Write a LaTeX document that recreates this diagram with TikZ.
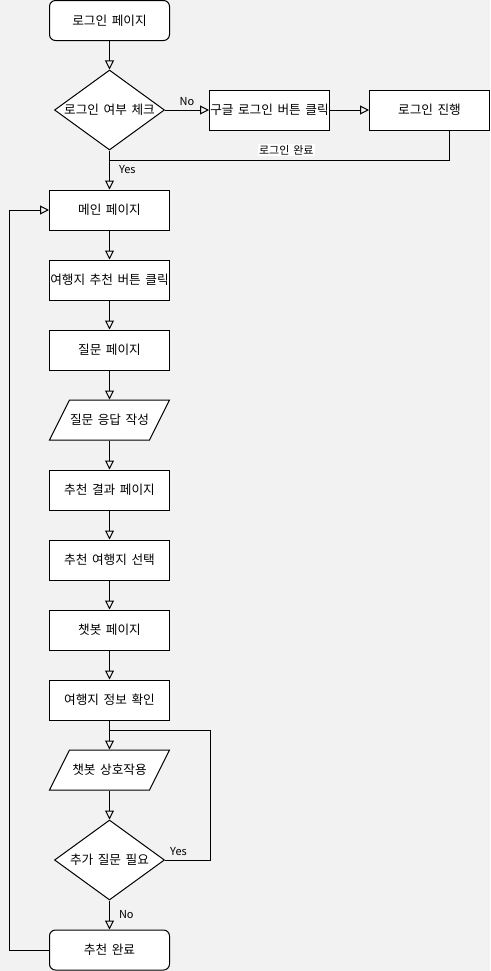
\documentclass[tikz,border=0pt]{standalone}
\usepackage{fontspec}
\setmainfont{Noto Sans CJK KR}[WordSpace=1.6]
\usetikzlibrary{shapes.geometric,arrows.meta}

\definecolor{canvas}{RGB}{242,242,242}

\tikzset{every picture/.style={line width=0.75pt}}
\tikzset{
  box/.style={draw, fill=white, minimum width=90pt, minimum height=30pt, inner sep=0pt, font=\fontsize{9.5}{11}\selectfont},
  roundbox/.style={box, rounded corners=4.5pt},
  iobox/.style={box, draw=none, fill=none},
  decision/.style={draw, fill=white, diamond, aspect=1.375, minimum width=82.5pt, minimum height=60pt, inner sep=-1pt, font=\fontsize{9.5}{11}\selectfont},
  flow/.style={-{Triangle[open,length=6.75pt,width=6.75pt]}},
  edgelabel/.style={font=\fontsize{8.25}{10}\selectfont, inner sep=0.75pt}
}

\begin{document}
\begin{tikzpicture}[x=0.75pt,y=0.75pt,yscale=-1,xscale=1]
%set diagram left start at 0, and has height of 971
\fill [canvas] (0,0) rectangle (490,971);
\useasboundingbox (0,0) rectangle (490,971);

%Shape: Rounded Rect
\node [roundbox] (login) at (109.5,20.5) {로그인 페이지};
%Shape: Diamond
\node [decision] (check) at (109.5,110) {로그인 여부 체크};
%Shape: Rectangle
\node [box] (google) at (269.5,110) {구글 로그인 버튼 클릭};
%Shape: Rectangle
\node [box] (proceed) at (429.5,110) {로그인 진행};
\coordinate (join) at (109.5,160);

%Shape: Rectangle
\node [box] (main) at (109.5,210) {메인 페이지};
%Shape: Rectangle
\node [box] (tripbtn) at (109.5,280) {여행지 추천 버튼 클릭};
%Shape: Rectangle
\node [box] (question) at (109.5,350) {질문 페이지};
%Shape: Parallelogram
\draw [fill=white] (69.5,400) -- (169.5,400) -- (149.5,440) -- (49.5,440) -- cycle ;
\node [iobox] (answer) at (109.5,420) {질문 응답 작성};
%Shape: Rectangle
\node [box] (result) at (109.5,490) {추천 결과 페이지};
%Shape: Rectangle
\node [box] (select) at (109.5,560) {추천 여행지 선택};
%Shape: Rectangle
\node [box] (chatpage) at (109.5,630) {챗봇 페이지};
%Shape: Rectangle
\node [box] (info) at (109.5,700) {여행지 정보 확인};
\coordinate (loopin) at (109.5,730);
%Shape: Parallelogram
\draw [fill=white] (69.5,750) -- (169.5,750) -- (149.5,790) -- (49.5,790) -- cycle ;
\node [iobox] (chat) at (109.5,770) {챗봇 상호작용};
%Shape: Diamond
\node [decision] (more) at (109.5,860) {추가 질문 필요};
%Shape: Rounded Rect
\node [roundbox] (done) at (109.5,950) {추천 완료};

%Straight Lines
\draw [flow] (login) -- (check);
\draw [flow] (check) -- node [edgelabel, above=2pt] (nolabel) {No} (google);
\draw [flow] (google) -- (proceed);
\draw ([xshift=15pt]proceed.south) |- node [edgelabel, fill=white, pos=0.74, above=2.5pt] (oklabel) {로그인 완료} (join);
\draw [flow] (check.south) -- node [edgelabel, right=6pt] (yeslabel) {Yes} (main.north);
\draw [flow] (main) -- (tripbtn);
\draw [flow] (tripbtn) -- (question);
\draw [flow] (question) -- (answer);
\draw [flow] (answer) -- (result);
\draw [flow] (result) -- (select);
\draw [flow] (select) -- (chatpage);
\draw [flow] (chatpage) -- (info);
\draw (info.south) -- (loopin);
\draw [flow] (loopin) -- (chat.north);
\draw [flow] (chat) -- (more);
\draw (more.east) -- node [edgelabel, pos=0.3, above=2pt] (againlabel) {Yes} ++(45,0) |- (loopin);
\draw [flow] (more.south) -- node [edgelabel, right=6pt] (endlabel) {No} (done.north);
\draw [flow] (done.west) -- ++(-40,0) |- (main.west);

\end{tikzpicture}
\end{document}
